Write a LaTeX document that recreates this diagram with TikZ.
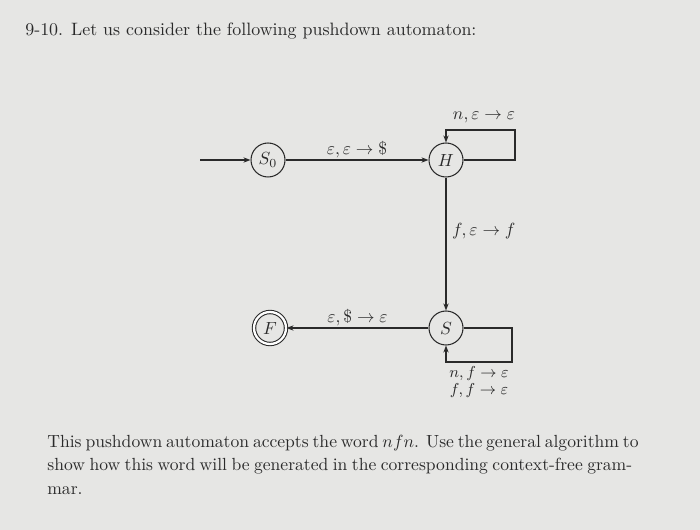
\documentclass[tikz,border=0pt]{standalone}
\usetikzlibrary{arrows.meta}
\definecolor{paper}{HTML}{E6E6E4}
\definecolor{ink}{HTML}{2A2A2A}
\begin{document}
\begin{tikzpicture}[x=0.02cm,y=-0.02cm,
  st/.style={circle,draw=ink,line width=0.6pt,minimum size=0.68cm,inner sep=0pt,text=ink},
  acc/.style={st,double,double distance=1.3pt,minimum size=0.64cm},
  edge/.style={draw=ink,line width=0.6pt,-{Stealth[length=4pt,width=3pt]}},
  lbl/.style={text=ink,inner sep=1pt},
  txt/.style={text=ink,anchor=base west,inner sep=0pt}]
\fill[paper] (0,0) rectangle (700,530);
\useasboundingbox (0,0) rectangle (700,530);
\node[txt,font=\fontsize{10.2}{12}\selectfont] (title) at (25,36) {9-10. Let us consider the following pushdown automaton:};
% states
\node[st] (S0) at (268,160) {$S_0$};
\node[st] (H) at (446,160) {$H$};
\node[st] (S) at (446,328) {$S$};
\node[acc] (F) at (270,328) {$F$};
\coordinate (init) at (200,160);
% loop corners
\coordinate (h1) at (515,160);
\coordinate (h2) at (515,130);
\coordinate (h3) at (446,130);
\coordinate (s1) at (512,328);
\coordinate (s2) at (512,362);
\coordinate (s3) at (446,362);
% edges
\draw[edge] (init) -- (S0);
\draw[edge] (S0) -- node[lbl,above] {$\varepsilon,\varepsilon\to\$$} (H);
\draw[edge] (H.east) -- (h1) -- (h2) -- (h3) -- (H.north);
\node[lbl] (lh) at (484,117) {$n,\varepsilon\to\varepsilon$};
\draw[edge] (H) -- (S);
\node[lbl,anchor=west] (lhs) at (450,231) {$f,\varepsilon\to f$};
\draw[edge] (S.east) -- (s1) -- (s2) -- (s3) -- (S.south);
\node[lbl,align=center,anchor=north,font=\small] (ls) at (479,364) {$n,f\to\varepsilon$\\[-1pt]$f,f\to\varepsilon$};
\draw[edge] (S) -- node[lbl,above] {$\varepsilon,\$\to\varepsilon$} (F);
% text
\node[txt] (p1) at (47,447) {\makebox[11.7cm][s]{This pushdown automaton accepts the word $nfn$. Use the general algorithm to}};
\node[txt] (p2) at (47,470) {\makebox[11.7cm][s]{show how this word will be generated in the corresponding context-free gram-}};
\node[txt] (p3) at (47,494) {mar.};
\end{tikzpicture}
\end{document}
